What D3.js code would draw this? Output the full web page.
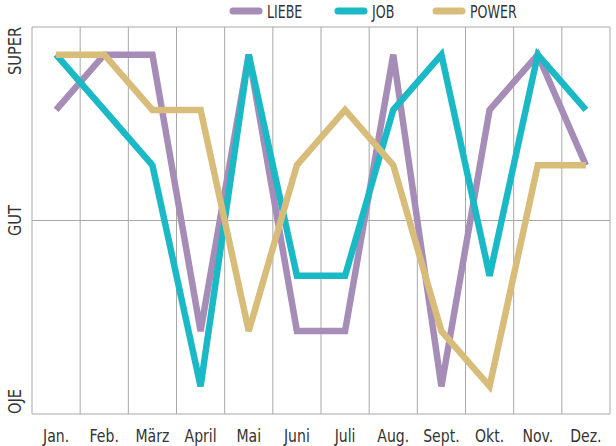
<!DOCTYPE html>
<html><head><meta charset="utf-8">
<script src="https://cdn.jsdelivr.net/npm/d3@7"></script>
<style>
html,body{margin:0;padding:0;background:#fff;}
svg text{font-family:"DejaVu Sans Condensed","Liberation Sans Narrow","Roboto",sans-serif;fill:#333;}
</style></head>
<body>
<svg id="c" width="616" height="446"></svg>
<script>
const months = ["Jan.","Feb.","März","April","Mai","Juni","Juli","Aug.","Sept.","Okt.","Nov.","Dez."];
const liebe = [5,6,6,1,6,1,1,6,0,5,6,4];
const job   = [6,5,4,0,6,2,2,5,6,2,6,5];
const power = [6,6,5,5,1,4,5,4,1,0,4,4];
const seriesNames = ["LIEBE","JOB","POWER"];
const seriesColors = ["#a68db8","#1ab9c5","#d8bd7a"];
const yLabels = ["OJE","GUT","SUPER"];
const yLabelValues = [0,3,6];

const svg = d3.select("#c");
const L=32, R=610, T=27, B=414;
const x = d3.scaleBand().domain(months).range([L,R]);
const y = d3.scaleLinear().domain([-0.5,6.5]).range([B,T]);

const g = svg.append("g");
const bounds = months.map(m=>x(m)).concat([R]);
g.selectAll("line.v").data(bounds).enter().append("line")
  .attr("x1",d=>d).attr("x2",d=>d).attr("y1",T).attr("y2",B)
  .attr("stroke","#a8a8a8").attr("stroke-width",1);
g.append("line").attr("x1",L).attr("x2",R).attr("y1",T).attr("y2",T).attr("stroke","#a8a8a8");
g.append("line").attr("x1",L).attr("x2",R).attr("y1",B).attr("y2",B).attr("stroke","#a8a8a8");
g.append("line").attr("x1",L).attr("x2",R).attr("y1",y(3)).attr("y2",y(3)).attr("stroke","#a8a8a8");

// x labels
g.selectAll("text.x").data(months).enter().append("text")
  .attr("transform",d=>`translate(${x(d)+x.bandwidth()/2},442) scale(0.92,1)`)
  .attr("text-anchor","middle").attr("font-size",17).text(d=>d);

// y labels
const anchors = ["start","middle","end"];
const yPos = [B, y(3), T];
g.selectAll("text.y").data(yLabels).enter().append("text")
  .attr("transform",(d,i)=>`translate(21,${yPos[i]}) rotate(-90) scale(0.9,1)`)
  .attr("text-anchor",(d,i)=>anchors[i]).attr("font-size",18).text(d=>d);

const data = [liebe, job, power];
const line = d3.line().x((d,i)=>x(months[i])+x.bandwidth()/2).y(d=>y(d));
data.forEach((s,k)=>{
  g.append("path").datum(s).attr("d",line).attr("fill","none")
   .attr("stroke",seriesColors[k]).attr("stroke-width",6.5)
   .attr("stroke-linejoin","miter").attr("stroke-linecap","butt");
});

// legend
const legX = [230,335,433];
seriesNames.forEach((n,k)=>{
  g.append("line").attr("x1",legX[k]+3).attr("x2",legX[k]+29).attr("y1",11).attr("y2",11)
   .attr("stroke",seriesColors[k]).attr("stroke-width",7).attr("stroke-linecap","round");
  g.append("text").attr("transform",`translate(${legX[k]+37},18) scale(0.78,1)`)
   .attr("font-size",18).text(n);
});
</script>
</body></html>
